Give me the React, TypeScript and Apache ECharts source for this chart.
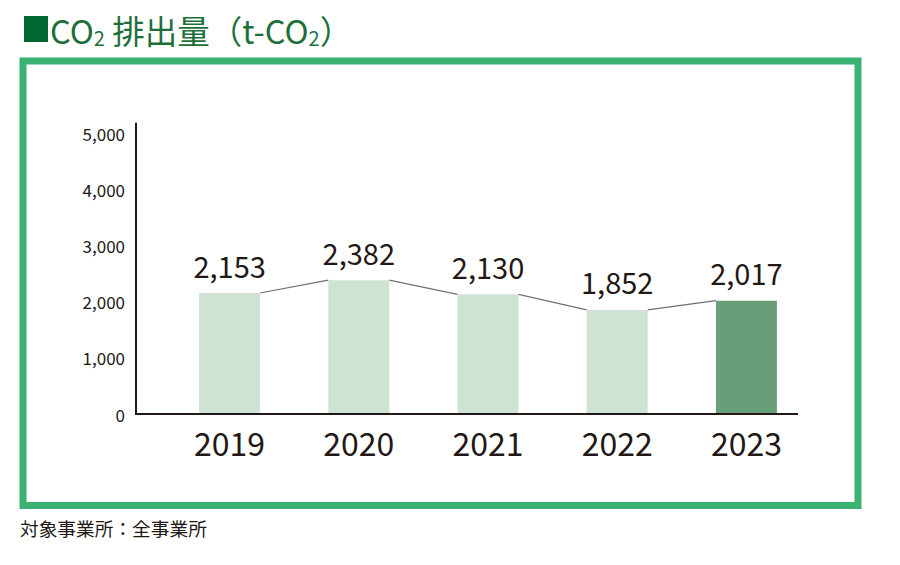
import React, { useEffect, useRef } from "react";
import * as echarts from "echarts";

const years = ["2019", "2020", "2021", "2022", "2023"];
const emissions = [2153, 2382, 2130, 1852, 2017];
const yTicks = [0, 1000, 2000, 3000, 4000, 5000];

const LIGHT = "#cfe3d5";
const DARK = "#6a9e78";
const TEXT = "#231815";
const FONT = "'Noto Sans CJK JP', 'Noto Sans', sans-serif";

export default function App() {
  const ref = useRef<HTMLDivElement>(null);
  useEffect(() => {
    if (!ref.current) return;
    const chart = echarts.init(ref.current, null, { renderer: "svg" });
    const barW = 61;
    const last = emissions.length - 1;
    chart.setOption({
      animation: false,
      backgroundColor: "#ffffff",
      textStyle: { fontFamily: FONT },
      grid: { left: 165, right: 89, top: 123.5, bottom: 151, containLabel: false },
      xAxis: {
        type: "category",
        data: years,
        axisLine: { show: false },
        axisTick: { show: false },
        axisLabel: { color: TEXT, fontSize: 32, margin: 12, fontFamily: FONT },
      },
      yAxis: {
        type: "value",
        min: yTicks[0],
        max: 5170,
        interval: 1000,
        offset: 29,
        axisLine: { show: true, lineStyle: { color: TEXT, width: 2 } },
        axisTick: { show: false },
        splitLine: { show: false },
        axisLabel: {
          color: TEXT,
          fontSize: 17,
          margin: 11,
          fontFamily: FONT,
          formatter: (v: number) => (yTicks.includes(v) ? v.toLocaleString("en-US") : ""),
        },
      },
      series: [
        {
          type: "bar",
          data: emissions.map((v, i) => ({
            value: v,
            itemStyle: { color: i === last ? DARK : LIGHT },
          })),
          barWidth: barW,
          label: {
            show: true,
            position: "top",
            distance: 14,
            color: TEXT,
            fontSize: 29,
            fontFamily: FONT,
            formatter: (p: any) => Number(p.value).toLocaleString("en-US"),
          },
          z: 2,
        },
        {
          type: "custom",
          data: emissions.map((v, i) => [i, v]),
          z: 3,
          silent: true,
          renderItem: (params: any, api: any) => {
            const i = api.value(0);
            if (i >= emissions.length - 1) return null;
            const p0 = api.coord([i, api.value(1)]);
            const p1 = api.coord([i + 1, emissions[i + 1]]);
            return {
              type: "line",
              shape: { x1: p0[0] + barW / 2, y1: p0[1], x2: p1[0] - barW / 2, y2: p1[1] },
              style: { stroke: "#707070", lineWidth: 1.2 },
            };
          },
        },
      ],
      graphic: [
        {
          type: "rect",
          shape: { x: 23, y: 61, width: 835, height: 444.5 },
          style: { fill: "none", stroke: "#3bb272", lineWidth: 7 },
        },
        {
          type: "line",
          shape: { x1: 135, y1: 414, x2: 798, y2: 414 },
          style: { stroke: TEXT, lineWidth: 2 },
          z: 10,
        },
        {
          type: "rect",
          shape: { x: 24, y: 16, width: 24, height: 26 },
          style: { fill: "#006934" },
        },
        {
          type: "text",
          x: 50,
          y: 29,
          style: {
            text: "{m|CO}{s|2}{m| 排出量（t-CO}{s|2}{m|）}",
            fill: "#1d6f3a",
            verticalAlign: "middle",
            rich: {
              m: { fontSize: 32.5, fontFamily: FONT, fill: "#1d6f3a", lineHeight: 36 },
              s: { fontSize: 20, fontFamily: FONT, fill: "#1d6f3a", lineHeight: 34, verticalAlign: "bottom" },
            },
          },
        },
        {
          type: "text",
          x: 20,
          y: 527,
          style: {
            text: "対象事業所：全事業所",
            fontSize: 18.7,
            fontFamily: FONT,
            fill: TEXT,
            verticalAlign: "middle",
          },
        },
      ],
    });
    return () => chart.dispose();
  }, []);
  return (
    <div
      ref={ref}
      style={{ position: "fixed", left: 0, top: 0, width: 900, height: 565 }}
    />
  );
}
